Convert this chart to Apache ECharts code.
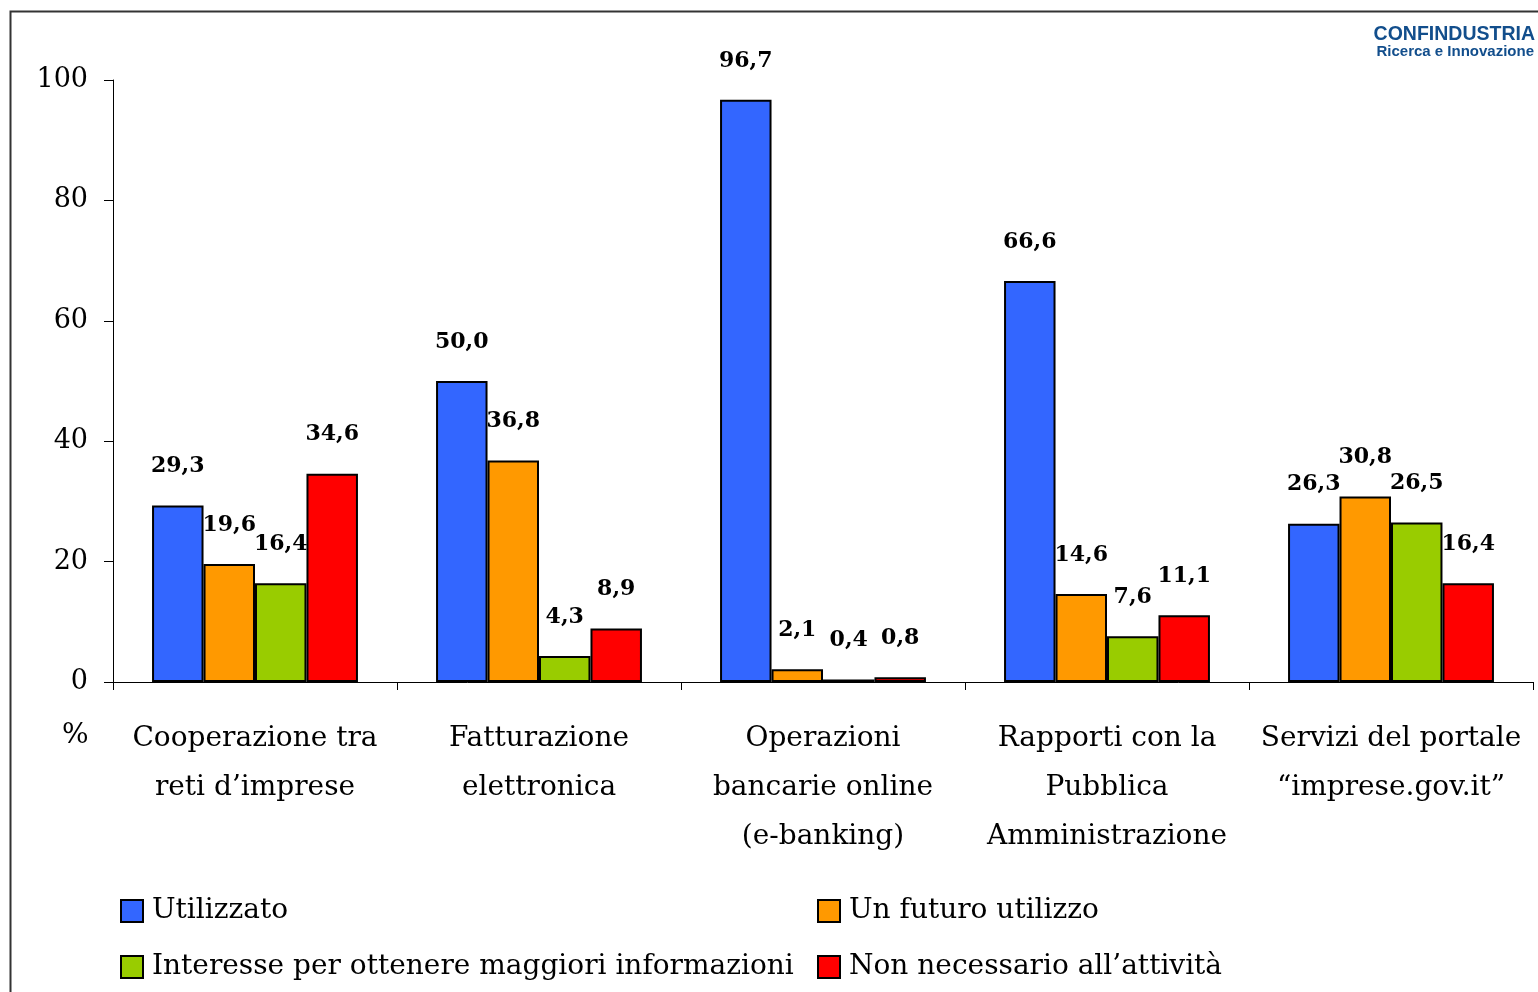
<!DOCTYPE html>
<html>
<head>
<meta charset="utf-8">
<script src="https://cdn.jsdelivr.net/npm/echarts@6/dist/echarts.min.js"></script>
<style>
html,body{margin:0;padding:0;background:#fff;}
#chart{width:1538px;height:992px;}
</style>
</head>
<body>
<div id="chart"></div>
<script>
const categories = [
  "Cooperazione tra\nreti d’imprese",
  "Fatturazione\nelettronica",
  "Operazioni\nbancarie online\n(e-banking)",
  "Rapporti con la\nPubblica\nAmministrazione",
  "Servizi del portale\n“imprese.gov.it”"
];
const seriesNames = [
  "Utilizzato",
  "Un futuro utilizzo",
  "Interesse per ottenere maggiori informazioni",
  "Non necessario all’attività"
];
const utilizzato = [29.3, 50.0, 96.7, 66.6, 26.3];
const futuroUtilizzo = [19.6, 36.8, 2.1, 14.6, 30.8];
const interesse = [16.4, 4.3, 0.4, 7.6, 26.5];
const nonNecessario = [34.6, 8.9, 0.8, 11.1, 16.4];
const yTicks = [0, 20, 40, 60, 80, 100];

const colors = ["#3366FF", "#FF9900", "#99CC00", "#FF0000"];
const seriesData = [utilizzato, futuroUtilizzo, interesse, nonNecessario];
const SERIF = "'DejaVu Serif', 'Liberation Serif', serif";

const chart = echarts.init(document.getElementById('chart'), null, {renderer: 'canvas'});

const series = seriesNames.map((name, i) => ({
  name: name,
  type: 'bar',
  data: seriesData[i],
  barGap: '0%',
  barCategoryGap: '27.5%',
  itemStyle: {color: colors[i], borderColor: '#000', borderWidth: 2},
  label: {
    show: true,
    position: 'top',
    distance: 28,
    fontFamily: SERIF,
    fontWeight: 'bold',
    fontSize: 22,
    color: '#000',
    formatter: p => p.value.toFixed(1).replace('.', ',')
  },
  emphasis: {disabled: true}
}));

// legend slots: [left, top] for each series (two columns, two rows)
const legendSlots = [[120, 897], [817, 897], [120, 953], [817, 953]];
const legends = seriesNames.map((name, i) => ({
  data: [name],
  left: legendSlots[i][0],
  top: legendSlots[i][1],
  orient: 'horizontal',
  padding: 0,
  itemWidth: 22,
  itemHeight: 22,
  icon: 'rect',
  itemStyle: {borderColor: '#000', borderWidth: 2},
  textStyle: {fontFamily: SERIF, fontSize: 28, color: '#000', padding: [0, 0, 0, 4]},
  selectedMode: false
}));

chart.setOption({
  animation: false,
  backgroundColor: '#fff',
  color: colors,
  grid: {left: 113, right: 5, top: 80, bottom: 310, containLabel: false},
  legend: legends,
  xAxis: {
    type: 'category',
    data: categories,
    axisLine: {show: true, lineStyle: {color: '#000', width: 1}},
    axisTick: {show: true, alignWithLabel: false, length: 8, lineStyle: {color: '#000'}},
    axisLabel: {
      interval: 0,
      margin: 32,
      fontFamily: SERIF,
      fontSize: 28,
      lineHeight: 49,
      color: '#000',
      align: 'center'
    }
  },
  yAxis: {
    type: 'value',
    min: yTicks[0],
    max: yTicks[yTicks.length - 1],
    interval: yTicks[1] - yTicks[0],
    splitLine: {show: false},
    axisLine: {show: true, lineStyle: {color: '#000', width: 1}},
    axisTick: {show: true, inside: false, length: 9, lineStyle: {color: '#000'}},
    axisLabel: {
      margin: 25,
      fontFamily: SERIF,
      fontSize: 27,
      color: '#000'
    }
  },
  graphic: [
    {
      type: 'rect',
      left: 8, top: 9,
      shape: {width: 1700, height: 1200},
      style: {fill: 'none', stroke: '#333', lineWidth: 2},
      silent: true,
      z: 100
    },
    {
      type: 'text',
      left: 62, top: 722,
      style: {text: '%', font: "28px " + SERIF, fill: '#000'}
    },
    {
      type: 'text',
      right: 3, top: 25,
      style: {text: 'CONFINDUSTRIA', font: "bold 19.5px 'Liberation Sans', Arial, sans-serif", fill: '#124E8C'}
    },
    {
      type: 'text',
      right: 4, top: 44,
      style: {text: 'Ricerca e Innovazione', font: "bold 15px 'Liberation Sans', Arial, sans-serif", fill: '#124E8C'}
    }
  ],
  series: series
});
</script>
</body>
</html>
